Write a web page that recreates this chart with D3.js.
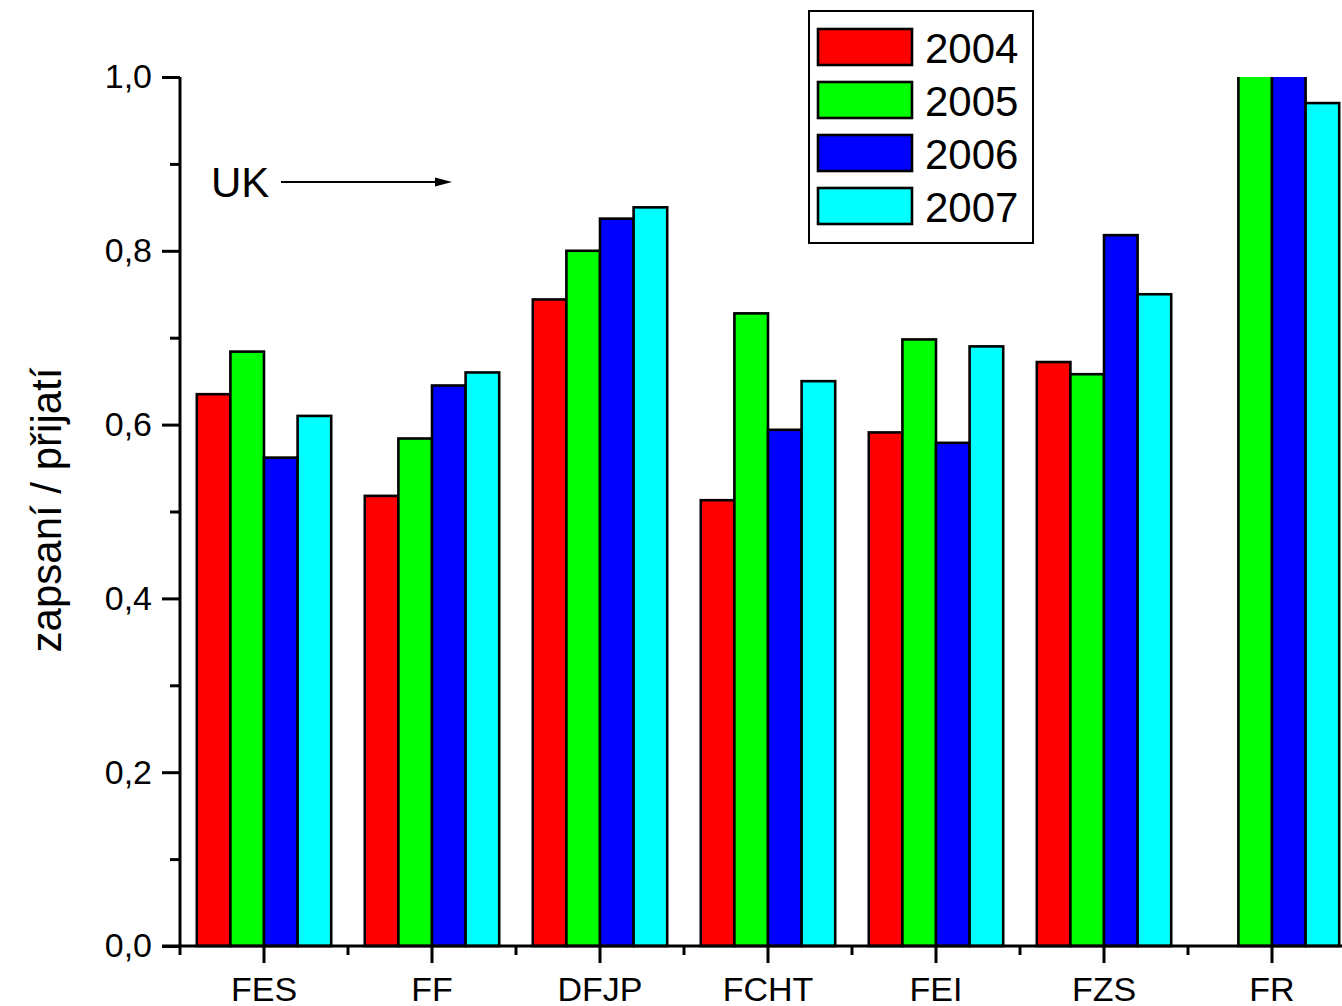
<!DOCTYPE html>
<html>
<head>
<meta charset="utf-8">
<script src="https://cdn.jsdelivr.net/npm/d3@7"></script>
<style>
  html, body { margin: 0; padding: 0; background: #fff; }
  svg { display: block; font-family: Arial, "Liberation Sans", sans-serif; }
</style>
</head>
<body>
<svg id="chart" width="1342" height="1006"></svg>
<script>
const categories = ["FES", "FF", "DFJP", "FCHT", "FEI", "FZS", "FR"];
const years = ["2004", "2005", "2006", "2007"];
const colors = ["#ff0000", "#00ff00", "#0000ff", "#00ffff"];
const values2004 = [0.635, 0.518, 0.744, 0.513, 0.591, 0.672, null];
const values2005 = [0.684, 0.584, 0.800, 0.728, 0.698, 0.658, 1.02];
const values2006 = [0.562, 0.645, 0.837, 0.594, 0.579, 0.818, 1.02];
const values2007 = [0.610, 0.660, 0.850, 0.650, 0.690, 0.750, 0.970];
const yTicks = [0, 0.2, 0.4, 0.6, 0.8, 1.0];
const yMinorTicks = [0.1, 0.3, 0.5, 0.7, 0.9];
const yTitle = "zapsaní / přijatí";
const annotation = "UK";

const series = [values2004, values2005, values2006, values2007];

const svg = d3.select("#chart");
const x0 = 180, yBase = 946, yTop = 77;
const band = 168;

const x = d3.scaleBand().domain(categories).range([x0, x0 + band * categories.length]).paddingInner(0).paddingOuter(0);
const x1 = d3.scaleBand().domain(years).range([band * 0.1, band * 0.9]).padding(0);
const y = d3.scaleLinear().domain([0, 1]).range([yBase, yTop]);

// clip
svg.append("defs").append("clipPath").attr("id", "plotclip")
  .append("rect").attr("x", x0).attr("y", yTop).attr("width", 1342 - x0).attr("height", yBase - yTop + 2);

// bars
const barsG = svg.append("g").attr("clip-path", "url(#plotclip)");
categories.forEach((c, i) => {
  years.forEach((yr, j) => {
    const v = series[j][i];
    if (v == null) return;
    barsG.append("rect")
      .attr("x", x(c) + x1(yr))
      .attr("y", y(v))
      .attr("width", x1.bandwidth())
      .attr("height", y(0) - y(v))
      .attr("fill", colors[j])
      .attr("stroke", "#000")
      .attr("stroke-width", 2.6);
  });
});

// Y axis
const yAxis = d3.axisLeft(y).tickValues(yTicks).tickSize(18).tickPadding(10)
  .tickFormat(d => d3.format(".1f")(d).replace(".", ","));
const gy = svg.append("g").attr("transform", `translate(${x0},0)`).call(yAxis);
gy.select(".domain").attr("stroke", "#000").attr("stroke-width", 3).attr("d", `M0,${yBase}V${yTop}`);
gy.selectAll(".tick line").attr("stroke", "#000").attr("stroke-width", 3);
gy.selectAll(".tick text").attr("font-size", 34).attr("fill", "#000").attr("font-family", "Arial, 'Liberation Sans', sans-serif");
const gyMinor = svg.append("g").attr("transform", `translate(${x0},0)`)
  .call(d3.axisLeft(y).tickValues(yMinorTicks).tickSize(10).tickFormat(""));
gyMinor.select(".domain").remove();
gyMinor.selectAll(".tick line").attr("stroke", "#000").attr("stroke-width", 3);

// X axis
const xAxis = d3.axisBottom(x).tickSize(17).tickPadding(14).tickSizeOuter(0);
const gx = svg.append("g").attr("transform", `translate(0,${yBase})`).call(xAxis);
gx.select(".domain").attr("stroke", "#000").attr("stroke-width", 3).attr("d", `M${x0 - 18},0H1342`);
gx.selectAll(".tick line").attr("stroke", "#000").attr("stroke-width", 3);
gx.selectAll(".tick text").attr("font-size", 34).attr("fill", "#000").attr("dy", "0.71em").attr("font-family", "Arial, 'Liberation Sans', sans-serif");
const minorX = d3.range(categories.length + 1).map(i => x0 + band * i);
svg.append("g").selectAll("line").data(minorX).join("line")
  .attr("x1", d => d).attr("x2", d => d)
  .attr("y1", yBase).attr("y2", yBase + 9)
  .attr("stroke", "#000").attr("stroke-width", 3);

// Y title
svg.append("text")
  .attr("transform", `translate(61,510)rotate(-90)`)
  .attr("text-anchor", "middle")
  .attr("font-size", 42)
  .text(yTitle);

// UK annotation
svg.append("text").attr("x", 211).attr("y", 197).attr("font-size", 42).text(annotation);
svg.append("line").attr("x1", 281).attr("x2", 438).attr("y1", 182).attr("y2", 182)
  .attr("stroke", "#000").attr("stroke-width", 2);
svg.append("path").attr("d", "M452,182L435,177.5L435,186.5Z").attr("fill", "#000");

// Legend
const legend = svg.append("g");
legend.append("rect").attr("x", 809).attr("y", 11).attr("width", 224).attr("height", 232)
  .attr("fill", "#fff").attr("stroke", "#000").attr("stroke-width", 2);
years.forEach((yr, j) => {
  legend.append("rect").attr("x", 818).attr("y", 29 + 53 * j).attr("width", 94).attr("height", 36)
    .attr("fill", colors[j]).attr("stroke", "#000").attr("stroke-width", 2.6);
  legend.append("text").attr("x", 925).attr("y", 63 + 53 * j).attr("font-size", 42).text(yr);
});
</script>
</body>
</html>
